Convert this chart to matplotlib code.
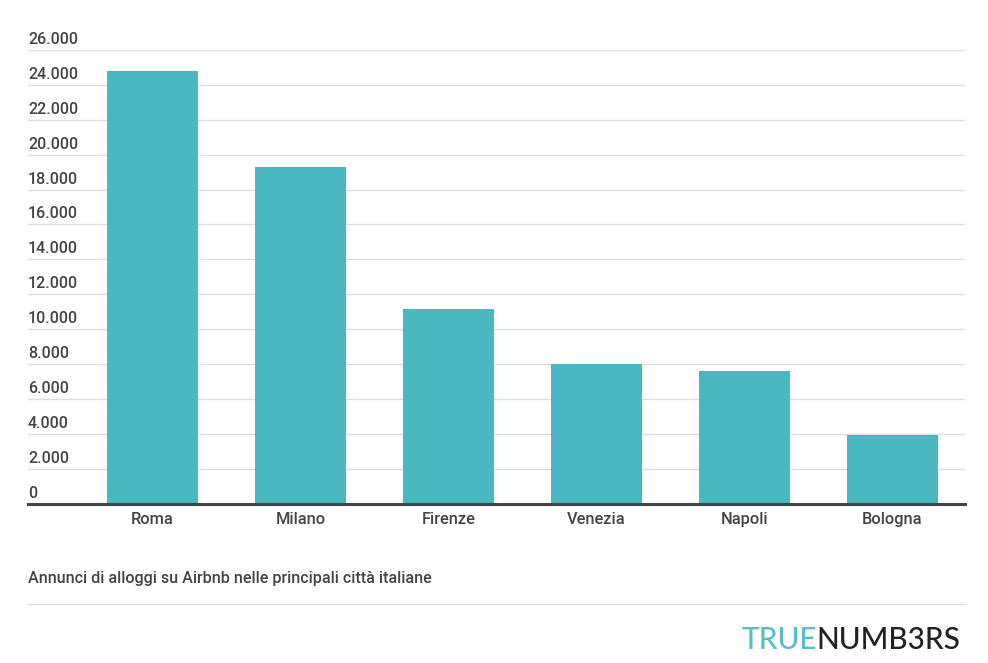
import matplotlib.pyplot as plt
import matplotlib.transforms as mtransforms

cities = ['Roma', 'Milano', 'Firenze', 'Venezia', 'Napoli', 'Bologna']
listings = [24800, 19300, 11150, 8000, 7600, 3940]
yticks = list(range(0, 26001, 2000))
ytick_labels = ['{:,}'.format(v).replace(',', '.') for v in yticks]

bar_color = '#4ab8c1'
text_color = '#444444'
plt.rcParams['font.family'] = ['Roboto', 'DejaVu Sans']
plt.rcParams['font.weight'] = 'medium'

fig = plt.figure(figsize=(9.88, 6.63), dpi=100)
ax = fig.add_axes([28 / 988, 159.5 / 663, 937 / 988, 453.5 / 663])

x = list(range(len(cities)))
ax.bar(x, listings, width=0.615, color=bar_color, zorder=2)
ax.set_xlim(-0.841, 5.49)
ax.set_ylim(0, 26000)

for s in ['top', 'right', 'left']:
    ax.spines[s].set_visible(False)
ax.spines['bottom'].set_color(text_color)
ax.spines['bottom'].set_linewidth(2.2)
ax.spines['bottom'].set_zorder(3)

ax.set_yticks(yticks)
ax.set_yticklabels([])
ax.tick_params(axis='y', length=0)
ax.grid(axis='y', color='#dddddd', linewidth=1, zorder=0)

ax.set_xticks(x)
ax.set_xticklabels(cities, fontsize=11.8, color=text_color)
ax.tick_params(axis='x', length=0, pad=6)

trans = mtransforms.blended_transform_factory(ax.transAxes, ax.transData)
offset = mtransforms.offset_copy(trans, fig=fig, x=0, y=3, units='dots')
for v, lab in zip(yticks, ytick_labels):
    ax.text(0, v, lab, transform=offset, ha='left', va='bottom',
            fontsize=11.5, color=text_color)

fig.text(28 / 988, 1 - 579 / 663, 'Annunci di alloggi su Airbnb nelle principali città italiane',
         ha='left', va='center', fontsize=11.6, color=text_color)
fig.add_artist(plt.Line2D([27 / 988, 965 / 988], [1 - 604 / 663, 1 - 604 / 663],
                          color='#dddddd', linewidth=1))

t1 = fig.text(741 / 988, 1 - 640 / 663, 'TRUE', ha='left', va='center',
              fontsize=21.4, color='#5bbcc8', family=['Lato', 'DejaVu Sans'],
              weight='medium')
fig.canvas.draw()
bb = t1.get_window_extent()
fig.text(bb.x1 / 988, 1 - 640 / 663, 'NUMB3RS', ha='left', va='center',
         fontsize=21.4, color='#222222', family=['Lato', 'DejaVu Sans'],
         weight='medium')

fig.savefig('out.png', dpi=100)
